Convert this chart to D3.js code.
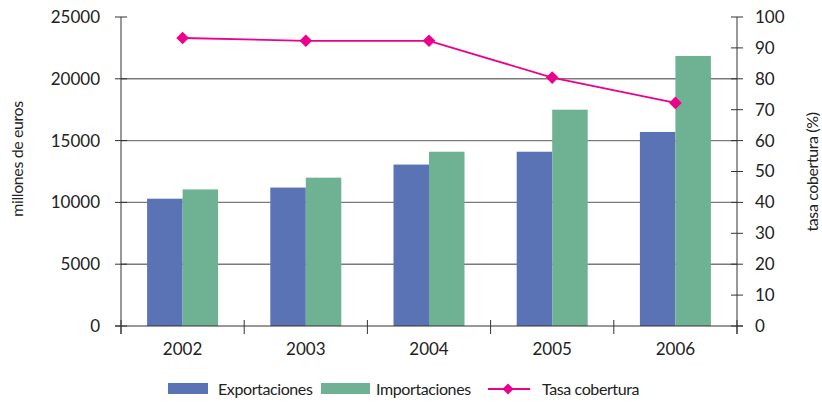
<!DOCTYPE html>
<html><head><meta charset="utf-8">
<script src="https://cdn.jsdelivr.net/npm/d3@7"></script>
<style>body{margin:0;background:#fff}svg text{font-family:Lato,sans-serif;fill:#222}</style>
</head><body><svg id="c" width="822" height="402"></svg>
<script>
const years = ["2002","2003","2004","2005","2006"];
const exportaciones = [10300, 11200, 13060, 14100, 15700];
const importaciones = [11050, 12000, 14100, 17500, 21850];
const tasaCobertura = [93.2, 92.3, 92.3, 80.4, 72.2];
const leftTicks = [0,5000,10000,15000,20000,25000];
const rightTicks = [0,10,20,30,40,50,60,70,80,90,100];
const seriesNames = ["Exportaciones","Importaciones","Tasa cobertura"];
const colors = {exp:"#5a73b5", imp:"#6fb193", tasa:"#ec008c"};
const FN = 17, FT = 16, LS = "-0.4px";

const svg = d3.select("#c");
const L=121, R=737, T=17, B=326;
const x = d3.scaleBand().domain(years).range([L,R]);
const xs = d3.scaleBand().domain(["exp","imp"]).range([0,71]);
const yL = d3.scaleLinear().domain([0,25000]).range([B,T]);
const yR = d3.scaleLinear().domain([0,100]).range([B,T]);

svg.append("g").selectAll("line").data(leftTicks.filter(d=>d>0&&d<25000)).join("line")
  .attr("x1",L).attr("x2",R).attr("y1",d=>yL(d)).attr("y2",d=>yL(d))
  .attr("stroke","#7a7a7a").attr("stroke-width",1.4);

const g = svg.append("g");
years.forEach((yr,i)=>{
  const x0 = x(yr)+(x.bandwidth()-71)/2;
  g.append("rect").attr("x",x0+xs("exp")).attr("width",xs.bandwidth())
    .attr("y",yL(exportaciones[i])).attr("height",B-yL(exportaciones[i])).attr("fill",colors.exp);
  g.append("rect").attr("x",x0+xs("imp")).attr("width",xs.bandwidth())
    .attr("y",yL(importaciones[i])).attr("height",B-yL(importaciones[i])).attr("fill",colors.imp);
});

const axStroke="#333";
svg.append("line").attr("x1",L).attr("x2",L).attr("y1",T).attr("y2",B+8).attr("stroke",axStroke);
svg.append("g").selectAll("line").data(leftTicks).join("line")
  .attr("x1",L-6).attr("x2",L+6).attr("y1",d=>yL(d)).attr("y2",d=>yL(d)).attr("stroke",axStroke);
svg.append("g").selectAll("text").data(leftTicks).join("text")
  .attr("x",100).attr("y",d=>yL(d)).attr("dy","0.35em").attr("text-anchor","end")
  .attr("font-size",FN).text(d=>d);
svg.append("line").attr("x1",R).attr("x2",R).attr("y1",T).attr("y2",B+8).attr("stroke",axStroke);
svg.append("g").selectAll("line").data(rightTicks).join("line")
  .attr("x1",R-6).attr("x2",R+6).attr("y1",d=>yR(d)).attr("y2",d=>yR(d)).attr("stroke",axStroke);
svg.append("g").selectAll("text").data(rightTicks).join("text")
  .attr("x",755).attr("y",d=>yR(d)).attr("dy","0.35em").attr("text-anchor","start")
  .attr("font-size",FN).text(d=>d);
svg.append("line").attr("x1",L-6).attr("x2",R+6).attr("y1",B).attr("y2",B).attr("stroke",axStroke);
const seps = years.map(d=>x(d)).concat([R]);
svg.append("g").selectAll("line").data(seps).join("line")
  .attr("x1",d=>d).attr("x2",d=>d).attr("y1",B-6).attr("y2",B+8).attr("stroke",axStroke);
svg.append("g").selectAll("text").data(years).join("text")
  .attr("x",d=>x(d)+x.bandwidth()/2).attr("y",349).attr("dy","0.35em").attr("text-anchor","middle")
  .attr("font-size",FN).text(d=>d);

svg.append("text").attr("transform","translate(17,159) rotate(-90)").attr("text-anchor","middle")
  .attr("dy","0.35em").attr("font-size",FT).attr("letter-spacing",LS).text("millones de euros");
svg.append("text").attr("transform","translate(812,172) rotate(-90)").attr("text-anchor","middle")
  .attr("dy","0.35em").attr("font-size",FT).attr("letter-spacing",LS).text("tasa cobertura (%)");

const cx = d=>x(d)+x.bandwidth()/2;
const line = d3.line().x((d,i)=>cx(years[i])).y(d=>yR(d));
svg.append("path").datum(tasaCobertura).attr("d",line).attr("fill","none")
  .attr("stroke",colors.tasa).attr("stroke-width",1.8);
svg.append("g").selectAll("path").data(tasaCobertura).join("path")
  .attr("transform",(d,i)=>`translate(${cx(years[i])},${yR(d)}) rotate(45)`)
  .attr("d",d3.symbol().type(d3.symbolSquare).size(80)).attr("fill",colors.tasa);

const lg = svg.append("g");
lg.append("rect").attr("x",168).attr("y",383).attr("width",40).attr("height",11).attr("fill",colors.exp);
lg.append("text").attr("x",218).attr("y",389).attr("dy","0.35em").attr("font-size",FT).attr("letter-spacing",LS).text(seriesNames[0]);
lg.append("rect").attr("x",321).attr("y",383).attr("width",49).attr("height",11).attr("fill",colors.imp);
lg.append("text").attr("x",376).attr("y",389).attr("dy","0.35em").attr("font-size",FT).attr("letter-spacing",LS).text(seriesNames[1]);
lg.append("line").attr("x1",488).attr("x2",530).attr("y1",389).attr("y2",389).attr("stroke",colors.tasa).attr("stroke-width",1.8);
lg.append("path").attr("transform","translate(508,389) rotate(45)").attr("d",d3.symbol().type(d3.symbolSquare).size(60)).attr("fill",colors.tasa);
lg.append("text").attr("x",542).attr("y",389).attr("dy","0.35em").attr("font-size",FT).attr("letter-spacing",LS).text(seriesNames[2]);
</script></body></html>
